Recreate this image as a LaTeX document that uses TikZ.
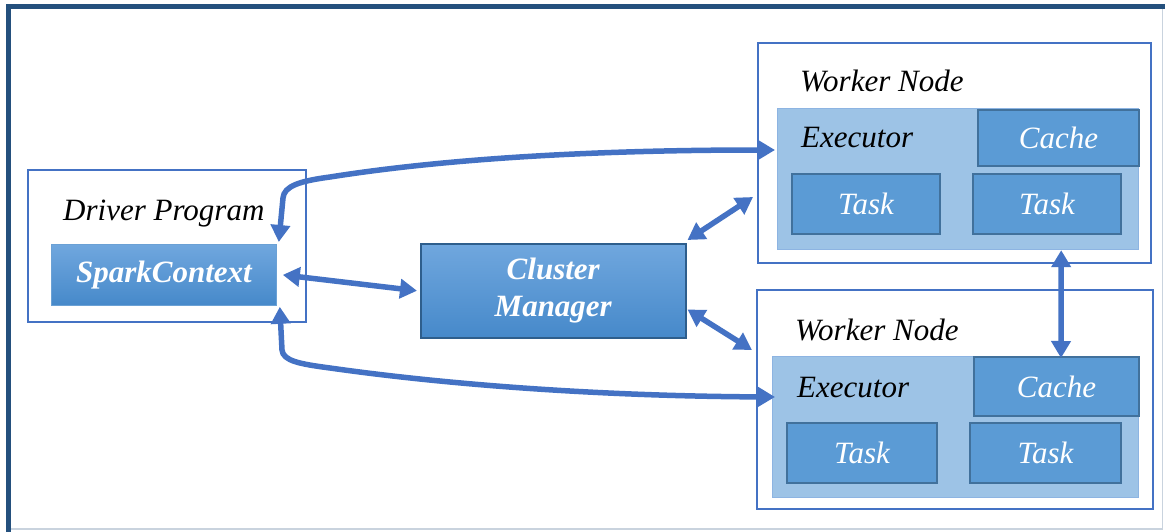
\documentclass[tikz,border=0pt]{standalone}
\usepackage{fontspec}
\setmainfont{Liberation Serif}
\usetikzlibrary{arrows.meta}
\definecolor{arrowblue}{HTML}{4472C4}
\definecolor{frameblue}{HTML}{24507D}
\definecolor{execfill}{HTML}{9DC3E6}
\definecolor{execdraw}{HTML}{8DB4E2}
\definecolor{taskfill}{HTML}{5B9BD5}
\definecolor{taskdraw}{HTML}{41719C}
\definecolor{gradtop}{HTML}{70A7DE}
\definecolor{gradbot}{HTML}{4689CA}
\definecolor{cmdraw}{HTML}{2E5E8C}
\definecolor{lightedge}{HTML}{C9D3DE}
\tikzset{
  txt/.style={font=\fontsize{31}{35}\selectfont\itshape, inner sep=0pt},
  btxt/.style={font=\fontsize{31}{37}\selectfont\bfseries\itshape, text=white, inner sep=0pt, align=center},
  outerbox/.style={draw=arrowblue, line width=2pt, fill=white, rectangle, anchor=north west, inner sep=0pt},
  execbox/.style={draw=execdraw, line width=1.2pt, fill=execfill, rectangle, anchor=north west, inner sep=0pt},
  taskbox/.style={draw=taskdraw, line width=2pt, fill=taskfill, rectangle, anchor=north west, inner sep=0pt, font=\fontsize{31}{35}\selectfont\itshape, text=white},
  gradbox/.style={rectangle, anchor=north west, inner sep=0pt, top color=gradtop, bottom color=gradbot},
  arr/.style={draw=arrowblue, line width=5.5pt, {Triangle[length=17pt,width=19pt]}-{Triangle[length=17pt,width=19pt]}}
}
\begin{document}
\begin{tikzpicture}[x=1pt,y=-1pt]
\useasboundingbox (0,0) rectangle (1165,532);
\fill[white] (0,0) rectangle (1165,532);
% page frame
\draw[lightedge, line width=1.5pt] (1162.5,7) -- (1162.5,529) -- (8,529);
\draw[frameblue, line width=5pt] (8.5,532) -- (8.5,7) -- (1165,7);

% driver
\node[outerbox, minimum width=278pt, minimum height=152pt] (drv) at (27,169) {};
\node[txt, anchor=base west] (drvlbl) at (63,220) {Driver Program};
\node[gradbox, draw=gradbot!80!white, line width=0.8pt, minimum width=225pt, minimum height=61pt, btxt] (sc) at (51,244) {SparkContext};

% cluster manager
\node[gradbox, draw=cmdraw, line width=1.5pt, minimum width=265pt, minimum height=94pt, btxt] (cm) at (420,243) {Cluster\\Manager};

% worker 1
\node[outerbox, minimum width=393pt, minimum height=220pt] (w1) at (757,42) {};
\node[txt, anchor=base west] (w1lbl) at (800,92) {Worker Node};
\node[execbox, minimum width=361pt, minimum height=141pt] (ex1) at (777,108) {};
\node[txt, anchor=base west] (ex1lbl) at (801,148) {Executor};
\node[taskbox, minimum width=161pt, minimum height=56pt] (ca1) at (977,109) {Cache};
\node[taskbox, minimum width=148pt, minimum height=60pt] (t11) at (791,173) {Task};
\node[taskbox, minimum width=148pt, minimum height=60pt] (t12) at (972,173) {Task};

% worker 2
\node[outerbox, minimum width=396pt, minimum height=219pt] (w2) at (756,289) {};
\node[txt, anchor=base west] (w2lbl) at (795,340) {Worker Node};
\node[execbox, minimum width=366pt, minimum height=141pt] (ex2) at (772,356) {};
\node[txt, anchor=base west] (ex2lbl) at (797,397) {Executor};
\node[taskbox, minimum width=165pt, minimum height=59pt] (ca2) at (973,356) {Cache};
\node[taskbox, minimum width=150pt, minimum height=60pt] (t21) at (786,422) {Task};
\node[taskbox, minimum width=151pt, minimum height=60pt] (t22) at (969,422) {Task};

% connectors
\draw[arr] ([xshift=6pt]sc.east) -- ([xshift=-3pt]cm.west);
\draw[arr] ([xshift=1pt,yshift=3pt]cm.north east) -- ([xshift=-4pt,yshift=67pt]w1.south west);
\draw[arr] ([xshift=1pt,yshift=29pt]cm.south east) -- ([xshift=-4pt,yshift=-61pt]w2.north west);
\coordinate (c1) at (283,198);
\coordinate (c2) at (330,177);
\draw[arr] ([xshift=2pt,yshift=2pt]sc.north east) -- (c1)
  .. controls (284,186) and (300,181) .. (c2)
  .. controls (450,158) and (600,150) .. ([xshift=-2pt,yshift=-42pt]ex1.north west);
\coordinate (c3) at (282,350);
\coordinate (c4) at (330,368);
\draw[arr] ([xshift=3pt,yshift=-1pt]sc.south east) -- (c3)
  .. controls (283,361) and (300,364) .. (c4)
  .. controls (450,385) and (600,396) .. ([xshift=3pt,yshift=-41pt]ex2.north west);
\draw[arr] ([xshift=-78pt]ex1.south east) -- ([xshift=-79pt,yshift=-2pt]ca2.north east);
\end{tikzpicture}
\end{document}
